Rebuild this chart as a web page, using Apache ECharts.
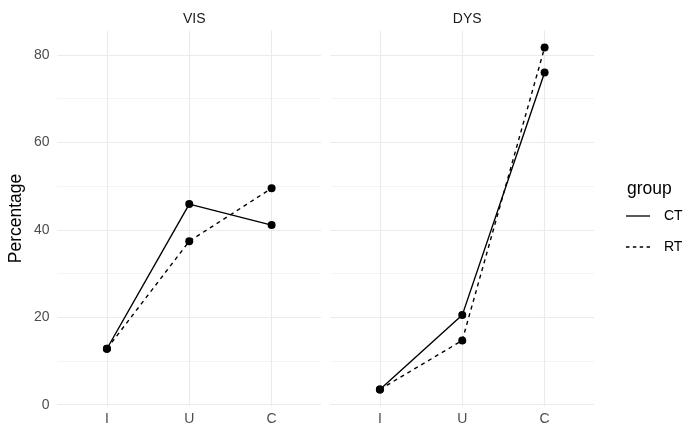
<!DOCTYPE html>
<html>
<head>
<meta charset="utf-8">
<script src="https://cdn.jsdelivr.net/npm/echarts@6/dist/echarts.min.js"></script>
<style>html,body{margin:0;padding:0;background:#fff;}#c{width:685px;height:431px;}</style>
</head>
<body>
<div id="c"></div>
<script>
const categories = ['I', 'U', 'C'];
const panels = ['VIS', 'DYS'];
const groups = ['CT', 'RT'];
const visCT = [12.8, 45.9, 41.1];
const visRT = [12.8, 37.4, 49.5];
const dysCT = [3.5, 20.5, 76.0];
const dysRT = [3.5, 14.7, 81.7];
const yTicks = [0, 20, 40, 60, 80];

const panelData = [[visCT, visRT], [dysCT, dysRT]];
const chart = echarts.init(document.getElementById('c'), null, {renderer: 'canvas'});

const gridLeft = [57.5, 330.5];
const gridW = 263.5;
const gridTop = 30.5, gridH = 376;
const yMin = -0.41, yMax = 85.61;
const FONT = 'Liberation Sans';

const grids = gridLeft.map(l => ({left: l, top: gridTop, width: gridW, height: gridH}));

const xAxes = gridLeft.map((l, i) => ({
  type: 'value', gridIndex: i, min: -0.6, max: 2.6,
  minInterval: 1, maxInterval: 1,
  axisLine: {show: false}, axisTick: {show: false},
  axisLabel: {
    show: true, showMinLabel: false, showMaxLabel: false,
    color: '#4D4D4D', fontSize: 14, fontFamily: FONT, margin: 6,
    formatter: v => (Number.isInteger(v) && categories[v] !== undefined) ? categories[v] : ''
  },
  splitLine: {show: true, showMinLine: false, showMaxLine: false, lineStyle: {color: '#EBEBEB', width: 1.1}}
}));

const yAxes = gridLeft.map((l, i) => ({
  type: 'value', gridIndex: i, min: yMin, max: yMax,
  minInterval: 20, maxInterval: 20,
  name: i === 0 ? 'Percentage' : '',
  nameLocation: 'middle', nameGap: 32, nameRotate: 90,
  nameTextStyle: {color: '#000', fontSize: 17.5, fontFamily: FONT},
  axisLine: {show: false}, axisTick: {show: false},
  axisLabel: {
    show: i === 0, showMinLabel: false, showMaxLabel: false,
    color: '#4D4D4D', fontSize: 14, fontFamily: FONT, margin: 8,
    formatter: v => yTicks.includes(v) ? String(v) : ''
  },
  splitLine: {show: true, showMinLine: false, showMaxLine: false, lineStyle: {color: '#EBEBEB', width: 1.1}},
  minorTick: {show: false, splitNumber: 2},
  minorSplitLine: {show: true, lineStyle: {color: '#EBEBEB', width: 0.55}}
}));

const series = [];
panelData.forEach((pd, pi) => {
  pd.forEach((vals, gi) => {
    series.push({
      name: groups[gi], type: 'line', xAxisIndex: pi, yAxisIndex: pi,
      data: vals.map((v, k) => [k, v]),
      symbol: 'circle', symbolSize: 8, showSymbol: true,
      itemStyle: {color: '#000'},
      lineStyle: {color: '#000', width: 1.4, type: gi === 0 ? 'solid' : [4, 4]},
      animation: false, silent: true
    });
  });
});

const solidIcon = 'path://M0,0M33,16M0,7.35H24V8.65H0Z';
const dashIcon = 'path://M0,0M33,16M0,7.35H3.43V8.65H0Z M6.86,7.35H10.29V8.65H6.86Z M13.71,7.35H17.14V8.65H13.71Z M20.57,7.35H24V8.65H20.57Z';

chart.setOption({
  backgroundColor: '#fff',
  animation: false,
  title: panels.map((p, i) => ({
    text: p, left: gridLeft[i] + gridW / 2, top: 7, textAlign: 'center',
    textStyle: {color: '#1A1A1A', fontSize: 14, fontWeight: 'normal', fontFamily: FONT}
  })).concat([{
    text: 'group', left: 622, top: 175,
    textStyle: {color: '#000', fontSize: 17.5, fontWeight: 'normal', fontFamily: FONT}
  }]),
  legend: {
    orient: 'vertical', left: 626, top: 208, itemWidth: 33, itemHeight: 16, itemGap: 15,
    padding: 0, selectedMode: false,
    textStyle: {color: '#000', fontSize: 14, lineHeight: 16, fontFamily: FONT},
    data: [{name: 'CT', icon: solidIcon, itemStyle: {color: '#000'}}, {name: 'RT', icon: dashIcon, itemStyle: {color: '#000'}}]
  },
  grid: grids,
  xAxis: xAxes,
  yAxis: yAxes,
  series: series
});
</script>
</body>
</html>
